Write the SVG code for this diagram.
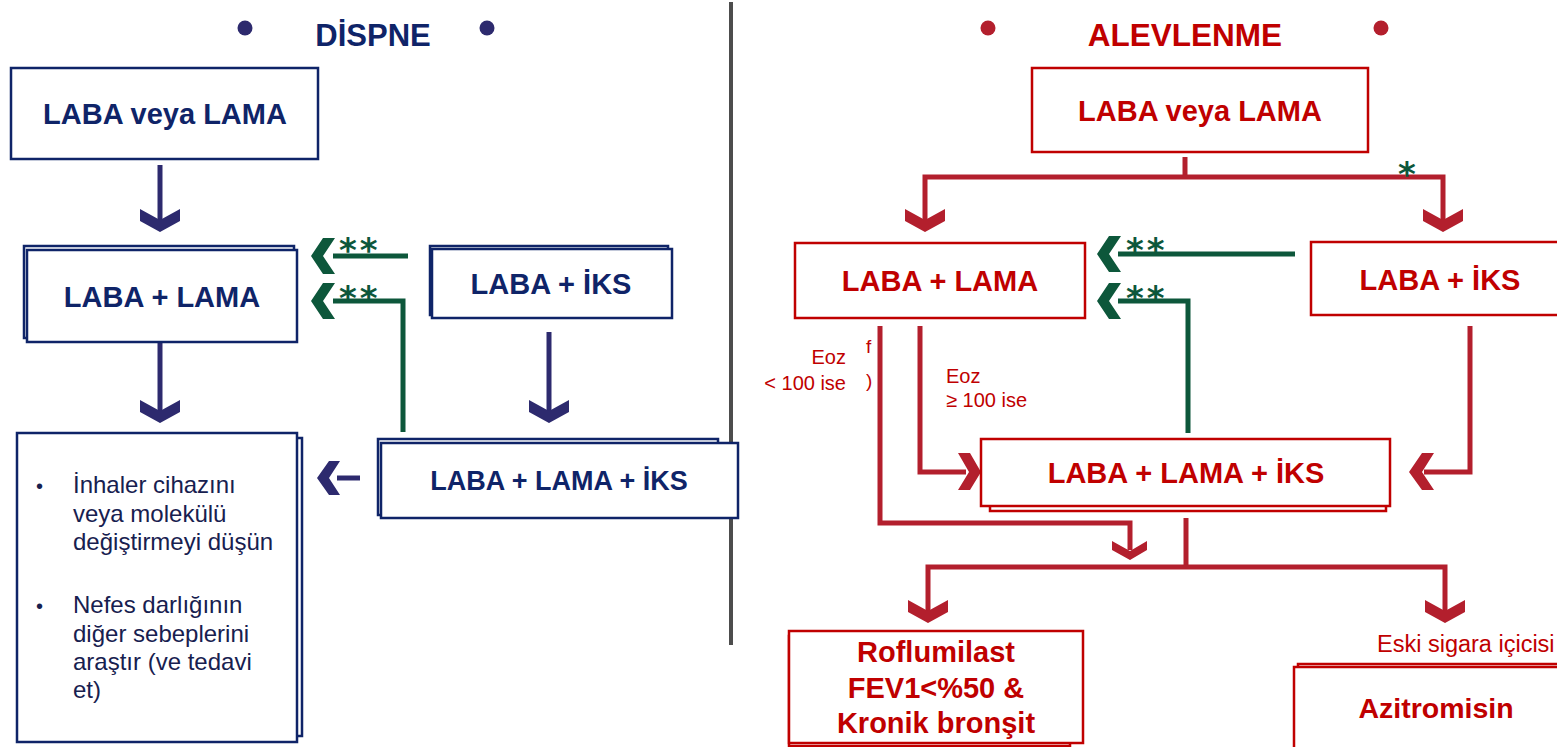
<svg xmlns="http://www.w3.org/2000/svg" width="1557" height="747" viewBox="0 0 1557 747">
<style>
.bg{fill:#ffffff}
.t{font-family:"Liberation Sans",Arial,sans-serif}
.b{font-weight:bold}
.navy{fill:#0f2468}
.red{fill:#c00000}
.nbox{fill:#ffffff;stroke:#0f2468;stroke-width:2.5}
.rbox{fill:#ffffff;stroke:#c00000;stroke-width:2.5}
.pl{fill:none;stroke:#2d2a6e;stroke-width:5}
.gl{fill:none;stroke:#0d573b;stroke-width:5}
.rl{fill:none;stroke:#b31f2d;stroke-width:5}
.ph{fill:#2d2a6e}
.gh{fill:#0d573b}
.rh{fill:#b31f2d}
.ast{font-family:"DejaVu Sans",sans-serif;font-weight:bold;font-size:34px;fill:#0d573b}
</style>
<rect class="bg" x="0" y="0" width="1557" height="747"/>

<!-- divider -->
<line x1="731" y1="2" x2="731" y2="645" stroke="#4d4d4d" stroke-width="4"/>

<!-- titles -->
<g id="title-dispne">
<circle cx="245" cy="28" r="7.5" fill="#2d2a6e"/>
<circle cx="487" cy="28" r="7.5" fill="#2d2a6e"/>
<text class="t b navy" x="373" y="46" font-size="31" text-anchor="middle">DİSPNE</text>
</g>
<g id="title-alevlenme">
<circle cx="988" cy="28" r="7.5" fill="#b31f2d"/>
<circle cx="1381" cy="28" r="7.5" fill="#b31f2d"/>
<text class="t b red" x="1185" y="46" font-size="31.5" text-anchor="middle">ALEVLENME</text>
</g>

<!-- connectors -->
<g id="connectors">
<!-- left side -->
<line class="pl" x1="160" y1="165" x2="160" y2="222"/>
<polygon class="ph" points="140,209 160,220 180,209 180,221 160,232 140,221"/>
<line class="pl" x1="160" y1="342" x2="160" y2="412"/>
<polygon class="ph" points="140,400 160,411 180,400 180,412 160,423 140,412"/>
<line class="pl" x1="549" y1="332" x2="549" y2="412"/>
<polygon class="ph" points="529,400 549,411 569,400 569,412 549,423 529,412"/>
<line class="pl" x1="337" y1="478" x2="360" y2="478"/>
<polygon class="ph" points="329,461 340,461 329,478 340,495 329,495 317,478"/>

<line class="gl" x1="333" y1="256" x2="408" y2="256"/>
<polygon class="gh" points="323,238 335,238 323,256 335,274 323,274 311,256"/>
<text class="ast" x="339" y="262" letter-spacing="3">**</text>
<polyline class="gl" points="333,301 403,301 403,432"/>
<polygon class="gh" points="323,283 335,283 323,301 335,319 323,319 311,301"/>
<text class="ast" x="339" y="310" letter-spacing="3">**</text>

<!-- right side -->
<line class="rl" x1="1185" y1="157" x2="1185" y2="177"/>
<polyline class="rl" points="925,220 925,177 1443,177 1443,220"/>
<polygon class="rh" points="905,209 925,220 945,209 945,221 925,232 905,221"/>
<polygon class="rh" points="1423,209 1443,220 1463,209 1463,221 1443,232 1423,221"/>
<text class="ast" x="1398" y="186" font-size="30">*</text>

<line class="gl" x1="1118" y1="254" x2="1295" y2="254"/>
<polygon class="gh" points="1109,236 1121,236 1109,254 1121,272 1109,272 1097,254"/>
<text class="ast" x="1126" y="262" letter-spacing="3">**</text>
<polyline class="gl" points="1118,301 1188,301 1188,433"/>
<polygon class="gh" points="1109,283 1121,283 1109,301 1121,319 1109,319 1097,301"/>
<text class="ast" x="1126" y="310" letter-spacing="3">**</text>

<polyline class="rl" points="880,326 880,523 1130,523 1130,550"/>
<polygon class="rh" points="1112,541 1130,551 1147,541 1147,550 1130,560 1112,550"/>
<polyline class="rl" points="920,326 920,472 966,472"/>
<polygon class="rh" points="958,453 970,453 981,472 970,490 958,490 969,472"/>
<polyline class="rl" points="1470,326 1470,472 1424,472"/>
<polygon class="rh" points="1422,453 1434,453 1422,472 1434,490 1422,490 1409,472"/>

<line class="rl" x1="1186" y1="518" x2="1186" y2="567"/>
<polyline class="rl" points="928,611 928,567 1445,567 1445,611"/>
<polygon class="rh" points="908,600 928,611 948,600 948,612 928,623 908,612"/>
<polygon class="rh" points="1425,600 1445,611 1465,600 1465,612 1445,623 1425,612"/>

<text class="t red" x="846" y="364" font-size="20" text-anchor="end">Eoz</text>
<text class="t red" x="846" y="390" font-size="20" text-anchor="end">&lt; 100 ise</text>
<text class="t red" x="866" y="353" font-size="19">f</text>
<text class="t red" x="866" y="387" font-size="19">)</text>
<text class="t red" x="946" y="383" font-size="20">Eoz</text>
<text class="t red" x="946" y="407" font-size="20">≥ 100 ise</text>
<text class="t red" x="1377" y="652" font-size="23.5">Eski sigara içicisi</text>
</g>

<!-- left nodes -->
<g id="n-laba-veya-lama-l">
<rect class="nbox" x="11" y="68" width="307" height="91"/>
<text class="t b navy" x="165" y="124" font-size="29" text-anchor="middle">LABA veya LAMA</text>
</g>
<g id="n-laba-lama-l">
<rect class="nbox" x="24" y="246" width="270" height="92"/>
<rect class="nbox" x="27" y="250" width="270" height="92"/>
<text class="t b navy" x="162" y="307" font-size="29" text-anchor="middle">LABA + LAMA</text>
</g>
<g id="n-laba-iks-l">
<rect class="nbox" x="430" y="246" width="238" height="69"/>
<rect class="nbox" x="432" y="249" width="240" height="69"/>
<text class="t b navy" x="551" y="294" font-size="29" text-anchor="middle">LABA + İKS</text>
</g>
<g id="n-triple-l">
<rect class="nbox" x="378" y="439" width="340" height="76"/>
<rect class="nbox" x="381" y="443" width="357" height="75"/>
<text class="t b navy" x="559" y="490" font-size="27" text-anchor="middle">LABA + LAMA + İKS</text>
</g>
<g id="n-advice">
<rect class="nbox" x="22" y="438" width="280" height="298"/>
<rect class="nbox" x="17" y="433" width="280" height="309"/>
<g class="t" font-size="24" fill="#17204f">
<text x="36" y="493" font-size="20">•</text>
<text x="73" y="493">İnhaler cihazını</text>
<text x="73" y="522">veya molekülü</text>
<text x="73" y="550">değiştirmeyi düşün</text>
<text x="36" y="613" font-size="20">•</text>
<text x="73" y="613">Nefes darlığının</text>
<text x="73" y="642">diğer sebeplerini</text>
<text x="73" y="670">araştır (ve tedavi</text>
<text x="73" y="698">et)</text>
</g>
</g>

<!-- right nodes -->
<g id="n-laba-veya-lama-r">
<rect class="rbox" x="1032" y="68" width="336" height="84"/>
<text class="t b red" x="1200" y="121" font-size="29" text-anchor="middle">LABA veya LAMA</text>
</g>
<g id="n-laba-lama-r">
<rect class="rbox" x="795" y="243" width="290" height="75"/>
<text class="t b red" x="940" y="291" font-size="29" text-anchor="middle">LABA + LAMA</text>
</g>
<g id="n-laba-iks-r">
<rect class="rbox" x="1311" y="242" width="260" height="73"/>
<text class="t b red" x="1440" y="290" font-size="29" text-anchor="middle">LABA + İKS</text>
</g>
<g id="n-triple-r">
<rect class="rbox" x="990" y="444" width="396" height="67"/>
<rect class="rbox" x="981" y="439" width="409" height="67"/>
<text class="t b red" x="1186" y="483" font-size="29" text-anchor="middle">LABA + LAMA + İKS</text>
</g>
<g id="n-roflumilast">
<rect class="rbox" x="789" y="636" width="281" height="110"/>
<rect class="rbox" x="789" y="631" width="294" height="112"/>
<text class="t b red" x="936" y="662" font-size="29" text-anchor="middle">Roflumilast</text>
<text class="t b red" x="936" y="698" font-size="29" text-anchor="middle">FEV1&lt;%50 &amp;</text>
<text class="t b red" x="936" y="733" font-size="29" text-anchor="middle">Kronik bronşit</text>
</g>
<g id="n-azitromisin">
<rect class="rbox" x="1298" y="664" width="270" height="90"/>
<rect class="rbox" x="1294" y="667" width="270" height="90"/>
<text class="t b red" x="1436" y="718" font-size="28.5" text-anchor="middle">Azitromisin</text>
</g>
</svg>
